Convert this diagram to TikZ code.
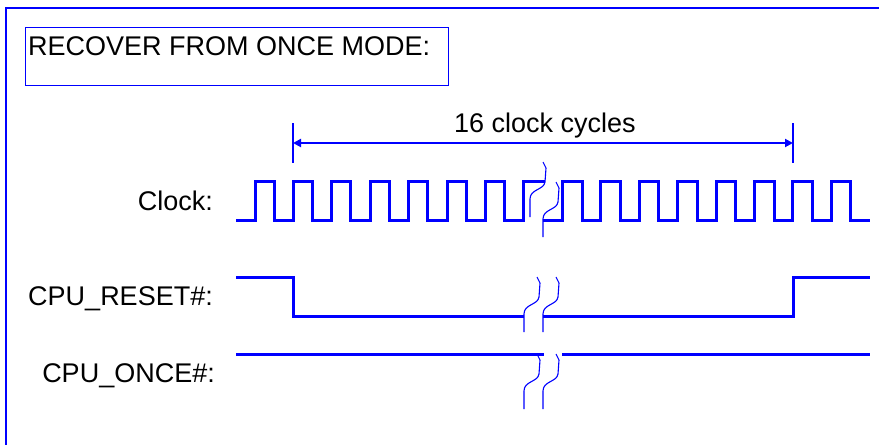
\documentclass[tikz,border=0pt]{standalone}
\usepackage{fontspec}
\setmainfont{Liberation Sans}
\usetikzlibrary{arrows.meta}
\definecolor{wblue}{RGB}{0,0,255}
\tikzset{
  frameline/.style={draw=wblue, line width=1.4pt},
  sig/.style={draw=wblue, line width=3pt, line join=miter},
  brk/.style={draw=wblue, line width=1.1pt},
  dim/.style={draw=wblue, line width=2.2pt, {Triangle[length=8pt,width=8pt]}-{Triangle[length=8pt,width=8pt]}},
  tick/.style={draw=wblue, line width=1.4pt},
  txt/.style={font=\fontsize{27}{31}\selectfont, text=black, inner sep=0pt},
  lbl/.style={txt, anchor=base east},
}
\newcommand\wavebreak[2]{%
  \draw[brk] (#1,#2) -- ++(3,6) -- ++(-1,14) .. controls ++(-1,8) and ++(0,-10) .. ++(-15,17) -- ++(0,18);}
\begin{document}
\begin{tikzpicture}[x=1pt,y=-1pt]
\useasboundingbox (0,0) rectangle (879,445);
% outer frame (top and left)
\draw[frameline] (879,8) -- (6,8) -- (6,445);
% title box
\node[draw=wblue, line width=1.1pt, minimum width=423pt, minimum height=58pt, inner sep=0pt, anchor=north west] (title) at (25,27) {};
\node[txt, anchor=base west] (titletext) at (28,55) {RECOVER FROM ONCE MODE:};
% dimension
\coordinate (tl) at (293,123);
\coordinate (tr) at (793,123);
\draw[tick] (tl) -- ++(0,40);
\draw[tick] (tr) -- ++(0,40);
\coordinate (al) at (293,143);
\coordinate (ar) at (793,143);
\draw[dim] (al) -- (ar);
\node[txt, anchor=base] (cyc) at (545,132) {16 clock cycles};
% labels
\node[lbl] (lclk) at (213,210) {Clock:};
\node[lbl] (lrst) at (213,305) {CPU\_RESET\#:};
\node[lbl] (lonce) at (215,382) {CPU\_ONCE\#:};
% clock waveform, left part
\draw[sig] (236,220) -- (255,220)
  \foreach \r in {255,293.4,331.8,370.2,408.6,447,485.4} {
    -- (\r,220) -- (\r,181) -- ({\r+19},181) -- ({\r+19},220) }
  -- (523.8,220) -- (523.8,181) -- (545,181);
% clock waveform, right part
\draw[sig] (543,220) -- (562.5,220)
  \foreach \r in {562.5,600.9,639.3,677.7,716.1,754.5,792.9,831.3} {
    -- (\r,220) -- (\r,181) -- ({\r+19.5},181) -- ({\r+19.5},220) }
  -- (870,220);
\wavebreak{543}{162}
\wavebreak{556}{182}
% CPU_RESET#
\draw[sig] (236,277) -- (293,277) -- (293,316) -- (524,316);
\draw[sig] (543,316) -- (793,316) -- (793,277) -- (870,277);
\wavebreak{537}{277}
\wavebreak{556}{277}
% CPU_ONCE#
\draw[sig] (236,354) -- (544,354);
\draw[sig] (562,354) -- (870,354);
\wavebreak{537}{354}
\wavebreak{556}{354}
\end{tikzpicture}
\end{document}
